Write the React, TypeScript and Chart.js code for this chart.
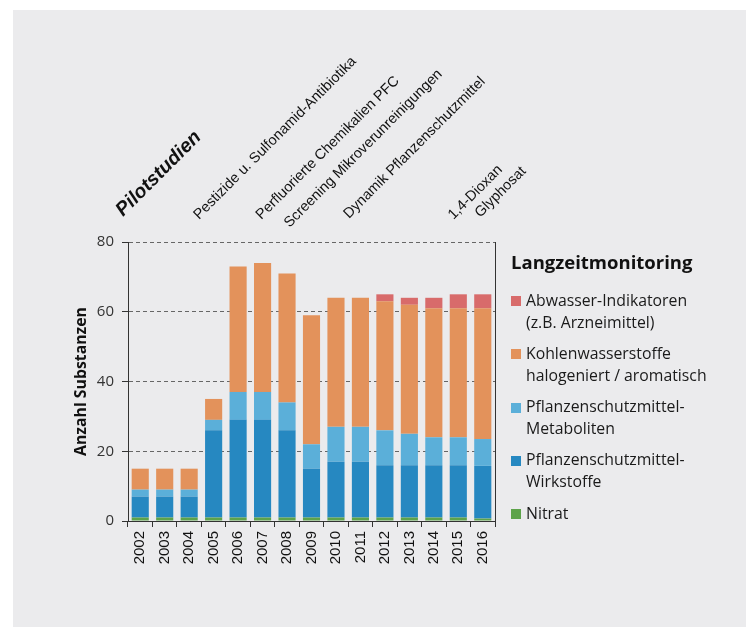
import React, { useEffect, useRef } from "react";
import { Chart, registerables } from "chart.js";

Chart.register(...registerables);

// ---- data ----
const years = ["2002", "2003", "2004", "2005", "2006", "2007", "2008", "2009", "2010", "2011", "2012", "2013", "2014", "2015", "2016"];
const nitrat = [1, 1, 1, 1, 1, 1, 1, 1, 1, 1, 1, 1, 1, 1, 0.7];
const wirkstoffe = [6, 6, 6, 25, 28, 28, 25, 14, 16, 16, 15, 15, 15, 15, 15.1];
const metaboliten = [2, 2, 2, 3, 8, 8, 8, 7, 10, 10, 10, 9, 8, 8, 7.7];
const kohlenwasserstoffe = [6, 6, 6, 6, 36, 37, 37, 37, 37, 37, 37, 37, 37, 37, 37.5];
const abwasser = [0, 0, 0, 0, 0, 0, 0, 0, 0, 0, 2, 2, 3, 4, 4];

const seriesLabels = [
  "Nitrat",
  "Pflanzenschutzmittel-Wirkstoffe",
  "Pflanzenschutzmittel-Metaboliten",
  "Kohlenwasserstoffe halogeniert / aromatisch",
  "Abwasser-Indikatoren (z.B. Arzneimittel)",
];
const legendLines = [
  ["Nitrat"],
  ["Pflanzenschutzmittel-", "Wirkstoffe"],
  ["Pflanzenschutzmittel-", "Metaboliten"],
  ["Kohlenwasserstoffe", "halogeniert / aromatisch"],
  ["Abwasser-Indikatoren", "(z.B. Arzneimittel)"],
];
const legendTitle = "Langzeitmonitoring";
const yTicks = [0, 20, 40, 60, 80];
const yTitle = "Anzahl Substanzen";

const annotationTexts = [
  "Pilotstudien",
  "Pestizide u. Sulfonamid-Antibiotika",
  "Perfluorierte Chemikalien PFC",
  "Screening Mikroverunreinigungen",
  "Dynamik Pflanzenschutzmittel",
  "1,4-Dioxan",
  "Glyphosat",
];

// ---- layout / style ----
const colors = ["#5DA34A", "#2688C1", "#5BAFD9", "#E3925B", "#D86B6B"];
const smallFont = "14.5px 'Liberation Sans', Arial, sans-serif";
const annotationLayout = [
  { pos: -0.7, rise: -25, font: "italic bold 19.5px 'Liberation Sans', Arial, sans-serif" },
  { pos: 2.4, rise: -22, font: smallFont },
  { pos: 4.95, rise: -22, font: smallFont },
  { pos: 6.1, rise: -14, font: smallFont },
  { pos: 8.53, rise: -23, font: smallFont },
  { pos: 12.8, rise: -22, font: smallFont },
  { pos: 13.9, rise: -24, font: smallFont },
];

const panelPlugin = {
  id: "panel",
  beforeDraw(chart: any) {
    const ctx = chart.ctx;
    ctx.save();
    ctx.fillStyle = "#ffffff";
    ctx.fillRect(0, 0, chart.width, chart.height);
    ctx.fillStyle = "#EBEBED";
    ctx.fillRect(13, 10, 733, 617);
    ctx.restore();
  },
};

const extrasPlugin = {
  id: "extras",
  afterDraw(chart: any) {
    const ctx = chart.ctx;
    const area = chart.chartArea;
    const xs = chart.scales.x;
    ctx.save();
    // right border of plot box
    ctx.strokeStyle = "#333";
    ctx.lineWidth = 1;
    ctx.beginPath();
    ctx.moveTo(Math.round(area.right) + 0.5, area.top);
    ctx.lineTo(Math.round(area.right) + 0.5, area.bottom);
    ctx.stroke();

    // rotated annotations
    const x0 = xs.getPixelForValue(0);
    const step = xs.getPixelForValue(1) - x0;
    ctx.fillStyle = "#111";
    ctx.textAlign = "left";
    ctx.textBaseline = "alphabetic";
    annotationTexts.forEach((t, i) => {
      const l = annotationLayout[i];
      ctx.save();
      ctx.translate(x0 + l.pos * step, area.top + l.rise);
      ctx.rotate(-Math.PI / 4);
      ctx.font = l.font;
      ctx.fillText(t, 0, 0);
      ctx.restore();
    });

    // legend
    const lx = area.right + 16;
    ctx.fillStyle = "#111";
    ctx.textBaseline = "middle";
    ctx.font = "bold 18.5px 'Open Sans', sans-serif";
    ctx.fillText(legendTitle, lx, area.top + 22);
    const ds = chart.data.datasets;
    const n = ds.length;
    for (let k = 0; k < n; k++) {
      const idx = n - 1 - k;
      const yc = area.top + 59 + k * 53.25;
      ctx.fillStyle = ds[idx].backgroundColor;
      ctx.fillRect(lx, Math.round(yc - 5), 10, 10);
      ctx.fillStyle = "#1a1a1a";
      ctx.font = "15.8px 'Open Sans', sans-serif";
      legendLines[idx].forEach((line, j) => {
        ctx.fillText(line, lx + 15, yc + j * 22);
      });
    }
    ctx.restore();
  },
};

export default function App() {
  const ref = useRef<HTMLCanvasElement | null>(null);
  useEffect(() => {
    if (!ref.current) return;
    const series = [nitrat, wirkstoffe, metaboliten, kohlenwasserstoffe, abwasser];
    const chart = new Chart(ref.current, {
      type: "bar",
      data: {
        labels: years,
        datasets: series.map((d, i) => ({
          label: seriesLabels[i],
          data: d,
          backgroundColor: colors[i],
          borderWidth: 0,
          categoryPercentage: 1,
          barPercentage: 0.7,
        })),
      },
      options: {
        responsive: false,
        animation: false,
        layout: { padding: { left: 0, top: 242, right: 257, bottom: 0 } },
        plugins: { legend: { display: false }, tooltip: { enabled: false } },
        scales: {
          x: {
            stacked: true,
            afterFit: (s: any) => {
              s.height = 106;
            },
            grid: {
              drawOnChartArea: false,
              drawTicks: true,
              tickLength: 6,
              color: "#333",
              offset: true,
            },
            border: { color: "#333", width: 1 },
            ticks: {
              minRotation: 90,
              maxRotation: 90,
              padding: 4,
              color: "#111",
              font: { family: "'Liberation Sans', Arial, sans-serif", size: 15 },
            },
          },
          y: {
            stacked: true,
            min: 0,
            max: 80,
            afterFit: (s: any) => {
              s.width = 128;
            },
            afterBuildTicks: (s: any) => {
              s.ticks = yTicks.map((v) => ({ value: v }));
            },
            grid: {
              color: (c: any) => (c.tick && c.tick.value === 0 ? "rgba(0,0,0,0)" : "#666"),
              tickColor: "#333",
              tickLength: 6,
              tickBorderDash: [],
              lineWidth: 1,
            },
            border: { color: "#333", width: 1, dash: [4, 3] },
            ticks: {
              padding: 8,
              color: "#333",
              font: { family: "'Open Sans', sans-serif", size: 15 },
            },
            title: {
              display: true,
              text: yTitle,
              color: "#111",
              font: { family: "'Open Sans', sans-serif", size: 15.8, weight: "bold" },
              padding: { top: 72, bottom: 0 },
            },
          },
        },
      },
      plugins: [panelPlugin, extrasPlugin],
    } as any);
    return () => chart.destroy();
  }, []);
  return (
    <div style={{ position: "absolute", left: 0, top: 0, width: 752, height: 627 }}>
      <canvas ref={ref} width={752} height={627} style={{ display: "block" }} />
    </div>
  );
}
